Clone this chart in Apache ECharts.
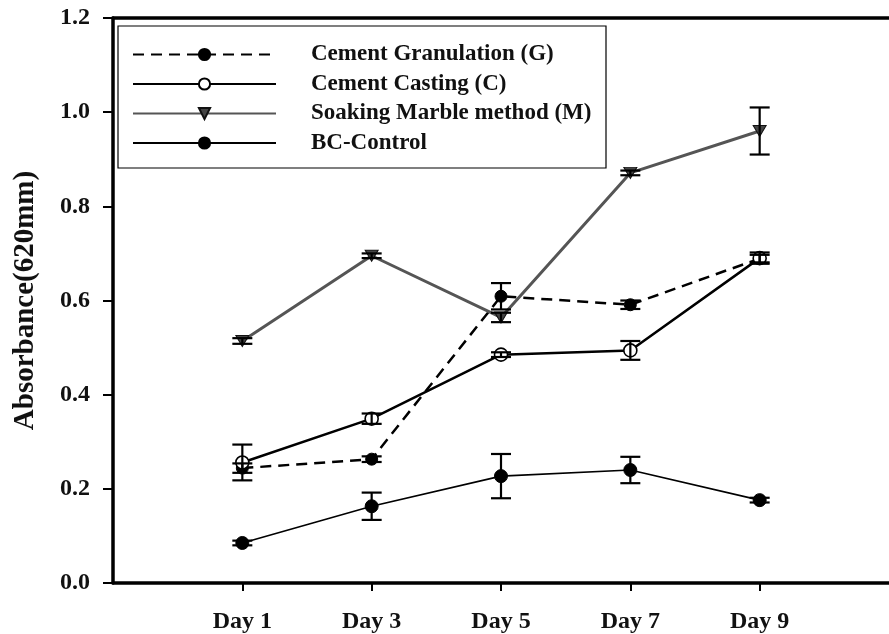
<!DOCTYPE html>
<html>
<head>
<meta charset="utf-8">
<script src="https://cdn.jsdelivr.net/npm/echarts@6/dist/echarts.min.js"></script>
<style>
  html, body { margin: 0; padding: 0; background: #fff; }
  #chart { width: 889px; height: 634px; }
</style>
</head>
<body>
<div id="chart"></div>
<script>
// Sampling days and their axis labels
const days = [1, 3, 5, 7, 9];
const dayLabels = ['Day 1', 'Day 3', 'Day 5', 'Day 7', 'Day 9'];
const yTicks = [0, 0.2, 0.4, 0.6, 0.8, 1.0, 1.2];

// Absorbance at 620 nm (mean) and error (half-width of bar)
const granulation    = [0.244, 0.263, 0.609, 0.591, 0.689];
const granulationErr = [0.010, 0.006, 0.028, 0.009, 0.008];
const casting        = [0.256, 0.349, 0.485, 0.494, 0.690];
const castingErr     = [0.038, 0.011, 0.005, 0.020, 0.012];
const marble         = [0.514, 0.695, 0.564, 0.871, 0.960];
const marbleErr      = [0.006, 0.005, 0.010, 0.005, 0.050];
const control        = [0.085, 0.163, 0.227, 0.240, 0.176];
const controlErr     = [0.005, 0.029, 0.047, 0.028, 0.005];

const names = ['Cement Granulation (G)', 'Cement Casting (C)', 'Soaking Marble method (M)', 'BC-Control'];

const FONT = '"Liberation Serif", "Times New Roman", serif';

function pairs(vals) {
  return days.map((d, i) => [d, vals[i]]);
}
function errData(vals, errs) {
  return days.map((d, i) => [d, vals[i] - errs[i], vals[i] + errs[i]]);
}

// Vertical error bar with end caps
function renderErr(params, api) {
  const x = api.value(0);
  const lo = api.coord([x, api.value(1)]);
  const hi = api.coord([x, api.value(2)]);
  const half = 10;
  const style = { stroke: '#000', lineWidth: 2.2, fill: null };
  return {
    type: 'group',
    children: [
      { type: 'line', shape: { x1: lo[0], y1: lo[1], x2: hi[0], y2: hi[1] }, style },
      { type: 'line', shape: { x1: hi[0] - half, y1: hi[1], x2: hi[0] + half, y2: hi[1] }, style },
      { type: 'line', shape: { x1: lo[0] - half, y1: lo[1], x2: lo[0] + half, y2: lo[1] }, style }
    ]
  };
}

function errSeries(id, vals, errs) {
  return {
    type: 'custom',
    id: id,
    renderItem: renderErr,
    data: errData(vals, errs),
    encode: { x: 0, y: [1, 2] },
    z: 5,
    silent: true
  };
}

const chart = echarts.init(document.getElementById('chart'));

chart.setOption({
  animation: false,
  backgroundColor: '#fff',
  grid: { left: 113, top: 18, width: 785, height: 566, containLabel: false },
  graphic: [{
    type: 'rect',
    shape: { x: 118, y: 26, width: 488, height: 142 },
    style: { fill: '#fff', stroke: '#000', lineWidth: 1.2 },
    z: 1
  }],
  legend: {
    data: names,
    orient: 'vertical',
    left: 132,
    top: 43,
    padding: 0,
    itemWidth: 143,
    itemHeight: 14,
    itemGap: 6.5,
    z: 3,
    textStyle: {
      fontFamily: FONT,
      fontWeight: 'bold',
      fontSize: 23,
      color: '#111',
      lineHeight: 14,
      padding: [0, 0, 0, 30]
    }
  },
  xAxis: [{
    type: 'value',
    min: -1,
    max: 11,
    axisLine: { show: true, onZero: false, lineStyle: { color: '#000', width: 3.5 } },
    axisTick: { show: true, customValues: days, length: 8, lineStyle: { color: '#000', width: 2 } },
    axisLabel: {
      customValues: days,
      formatter: v => dayLabels[days.indexOf(v)] || '',
      margin: 27,
      fontFamily: FONT,
      fontWeight: 'bold',
      fontSize: 24,
      color: '#111'
    },
    splitLine: { show: false }
  }, {
    type: 'value',
    position: 'top',
    min: -1,
    max: 11,
    axisLine: { show: true, onZero: false, lineStyle: { color: '#000', width: 3.5 } },
    axisTick: { show: false },
    axisLabel: { show: false },
    splitLine: { show: false }
  }],
  yAxis: {
    type: 'value',
    min: 0,
    max: 1.2,
    interval: 0.2,
    name: 'Absorbance(620mm)',
    nameLocation: 'middle',
    nameGap: 73,
    nameTextStyle: { fontFamily: FONT, fontWeight: 'bold', fontSize: 29, color: '#111' },
    axisLine: { show: true, onZero: false, lineStyle: { color: '#000', width: 3.5 } },
    axisTick: { show: true, length: 10, lineStyle: { color: '#000', width: 2 } },
    axisLabel: {
      customValues: yTicks,
      formatter: v => v.toFixed(1),
      margin: 23,
      fontFamily: FONT,
      fontWeight: 'bold',
      fontSize: 24,
      color: '#111'
    },
    splitLine: { show: false }
  },
  series: [
    {
      name: names[0],
      type: 'line',
      data: pairs(granulation),
      symbol: 'circle',
      symbolSize: 12,
      lineStyle: { color: '#000', width: 2.5, type: [11, 7] },
      itemStyle: { color: '#000', borderColor: '#000', borderWidth: 1 },
      z: 3
    },
    {
      name: names[1],
      type: 'line',
      data: pairs(casting),
      symbol: 'circle',
      symbolSize: 13,
      lineStyle: { color: '#000', width: 2.5 },
      itemStyle: { color: '#fff', borderColor: '#000', borderWidth: 1.6 },
      z: 3
    },
    {
      name: names[2],
      type: 'line',
      data: pairs(marble),
      symbol: 'triangle',
      symbolRotate: 180,
      symbolSize: [13, 11],
      lineStyle: { color: '#555', width: 3 },
      itemStyle: { color: '#444', borderColor: '#111', borderWidth: 1 },
      z: 3
    },
    {
      name: names[3],
      type: 'line',
      data: pairs(control),
      symbol: 'circle',
      symbolSize: 13,
      lineStyle: { color: '#000', width: 1.6 },
      itemStyle: { color: '#000', borderColor: '#000', borderWidth: 1 },
      z: 3
    },
    errSeries('errG', granulation, granulationErr),
    errSeries('errC', casting, castingErr),
    errSeries('errM', marble, marbleErr),
    errSeries('errB', control, controlErr)
  ]
});
</script>
</body>
</html>
